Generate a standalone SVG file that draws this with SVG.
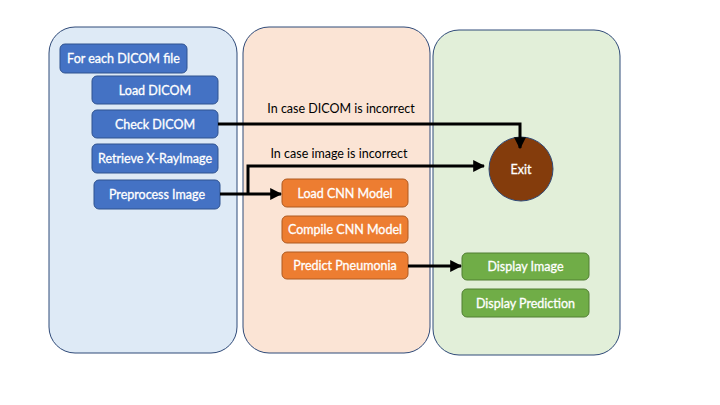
<svg xmlns="http://www.w3.org/2000/svg" width="720" height="405" viewBox="0 0 720 405">
<defs>
<marker id="arr" viewBox="0 0 10 10" refX="9" refY="5" markerWidth="4" markerHeight="4" orient="auto" markerUnits="strokeWidth">
<path d="M0,0 L10,5 L0,10 Z" fill="#000"/>
</marker>
<style>
.panel{stroke:#2f4a78;stroke-width:1}
.bb{fill:#4472c4;stroke:#2f528f;stroke-width:1}
.ob{fill:#ed7d31;stroke:#ae5a21;stroke-width:1}
.gb{fill:#70ad47;stroke:#507e32;stroke-width:1}
.t{font-family:Lato,"Open Sans",sans-serif;font-size:12.5px;fill:#fff;stroke:#fff;stroke-width:0.3;text-anchor:middle;dominant-baseline:central}
.lbl{font-family:Lato,"Open Sans",sans-serif;font-size:12.5px;fill:#000;text-anchor:middle;dominant-baseline:central}
.c{fill:none;stroke:#000;stroke-width:3}
</style>
</defs>
<rect width="720" height="405" fill="#fff"/>
<g id="panels">
<rect class="panel" x="49" y="27" width="188" height="326" rx="26" fill="#deeaf6"/>
<rect class="panel" x="243" y="27" width="187" height="326" rx="26" fill="#fbe4d5"/>
<rect class="panel" x="433" y="30" width="187" height="325" rx="26" fill="#e2efd9"/>
</g>
<g id="n-foreach"><rect class="bb" x="60" y="44" width="127" height="29" rx="5"/><text class="t" x="123.5" y="58.5">For each DICOM file</text></g>
<g id="n-load"><rect class="bb" x="92" y="76" width="126" height="28" rx="5"/><text class="t" x="155" y="90">Load DICOM</text></g>
<g id="n-check"><rect class="bb" x="92" y="110" width="126" height="28" rx="5"/><text class="t" x="155" y="124">Check DICOM</text></g>
<g id="n-retrieve"><rect class="bb" x="92" y="144" width="126" height="29" rx="5"/><text class="t" x="155" y="158.5">Retrieve X-RayImage</text></g>
<g id="n-preprocess"><rect class="bb" x="94" y="180" width="126" height="29" rx="5"/><text class="t" x="157" y="194.5">Preprocess Image</text></g>
<g id="n-loadcnn"><rect class="ob" x="282" y="179" width="126" height="28" rx="5"/><text class="t" x="345" y="193">Load CNN Model</text></g>
<g id="n-compile"><rect class="ob" x="282" y="216" width="126" height="27" rx="5"/><text class="t" x="345" y="229.5">Compile CNN Model</text></g>
<g id="n-predict"><rect class="ob" x="282" y="252" width="126" height="27" rx="5"/><text class="t" x="345" y="265.5">Predict Pneumonia</text></g>
<g id="n-dispimg"><rect class="gb" x="462" y="253" width="127" height="27" rx="5"/><text class="t" x="525.5" y="266.5">Display Image</text></g>
<g id="n-disppred"><rect class="gb" x="462" y="289" width="127" height="28" rx="5"/><text class="t" x="525.5" y="303">Display Prediction</text></g>
<g id="n-exit"><circle cx="521" cy="169" r="32" fill="#843c0c" stroke="#2f4a78" stroke-width="1"/><text class="t" x="521" y="169">Exit</text></g>
<g id="connectors">
<path class="c" d="M218,124 H520 V148" marker-end="url(#arr)"/>
<path class="c" d="M220,194 H281" marker-end="url(#arr)"/>
<path class="c" d="M248,194 V166 H484" marker-end="url(#arr)"/>
<path class="c" d="M408,266 H461" marker-end="url(#arr)"/>
<text class="lbl" x="341" y="108">In case DICOM is incorrect</text>
<text class="lbl" x="339" y="153">In case image is incorrect</text>
</g>
</svg>
